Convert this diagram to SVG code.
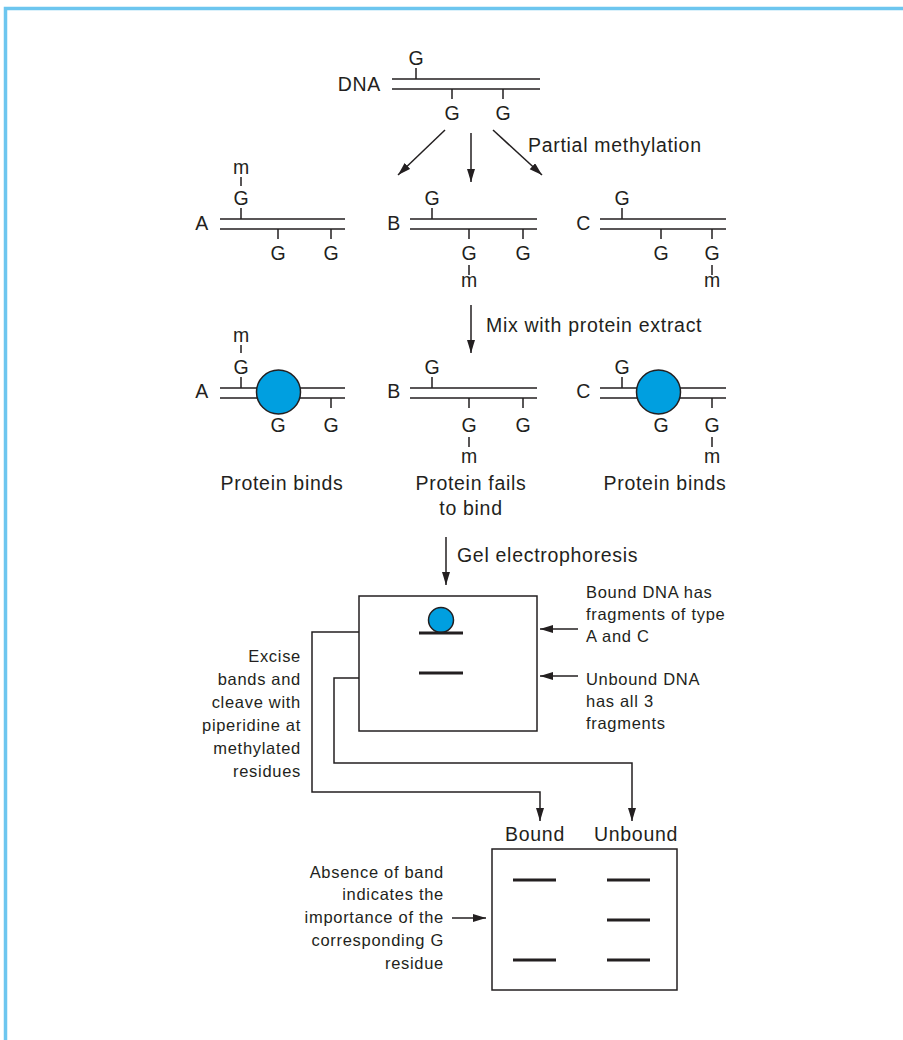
<svg xmlns="http://www.w3.org/2000/svg" width="903" height="1040" viewBox="0 0 903 1040">
  <defs>
    <style>
      text { font-family: "Liberation Sans", Arial, Helvetica, sans-serif; fill: #231F20; }
      .lg { font-size: 19.5px; letter-spacing: 0.7px; }
      .sm { font-size: 16.5px; letter-spacing: 0.7px; }
      .base { font-size: 19.5px; text-anchor: middle; }
      .end { text-anchor: end; }
      .mid { text-anchor: middle; }
      .ln { stroke: #231F20; stroke-width: 1.5; fill: none; }
      .band { stroke: #231F20; stroke-width: 3; }
      .protein { fill: #009FE0; stroke: #231F20; stroke-width: 1.5; }
      .frame { stroke: #6DC6EF; stroke-width: 3.5; fill: none; }
    </style>
    <marker id="arrow" markerUnits="userSpaceOnUse" markerWidth="14" markerHeight="9" refX="13" refY="4" orient="auto">
      <path d="M0,0 L13,4 L0,8 z" fill="#231F20"/>
    </marker>
  </defs>

  <rect width="903" height="1040" fill="#FFFFFF"/>
  <!-- page frame -->
  <path class="frame" d="M5.5,1040 V8.5 H903"/>

  <!-- starting duplex -->
  <g id="dna">
    <text class="lg end" x="381" y="91">DNA</text>
    <path class="ln" d="M392,79 H540 M392,89 H540 M416,79 V68 M452,89 V99 M503,89 V99"/>
    <text class="base" x="416" y="65">G</text>
    <text class="base" x="452" y="120">G</text>
    <text class="base" x="503" y="120">G</text>
  </g>

  <!-- methylated fragments -->
  <g id="frag-a">
    <text class="lg end" x="209" y="230">A</text>
    <path class="ln" d="M220,219 H345 M220,229 H345 M241,219 V208 M241,186 V177 M278,229 V239 M331,229 V239"/>
    <text class="base" x="241" y="174">m</text>
    <text class="base" x="241" y="205">G</text>
    <text class="base" x="278" y="260">G</text>
    <text class="base" x="331" y="260">G</text>
  </g>
  <g id="frag-b">
    <text class="lg end" x="401" y="230">B</text>
    <path class="ln" d="M410,219 H537 M410,229 H537 M432,219 V208 M469,229 V239 M523,229 V239 M469,265 V275"/>
    <text class="base" x="432" y="205">G</text>
    <text class="base" x="469" y="260">G</text>
    <text class="base" x="523" y="260">G</text>
    <text class="base" x="469" y="287">m</text>
  </g>
  <g id="frag-c">
    <text class="lg end" x="591" y="230">C</text>
    <path class="ln" d="M600,219 H726 M600,229 H726 M622,219 V208 M661,229 V239 M712,229 V239 M712,265 V275"/>
    <text class="base" x="622" y="205">G</text>
    <text class="base" x="661" y="260">G</text>
    <text class="base" x="712" y="260">G</text>
    <text class="base" x="712" y="287">m</text>
  </g>

  <!-- fragments after protein binding -->
  <g id="bound-a">
    <text class="lg end" x="209" y="398">A</text>
    <path class="ln" d="M220,388 H345 M220,398 H345 M241,388 V377 M241,353 V345 M331,398 V408"/>
    <circle class="protein" cx="278.5" cy="392" r="22"/>
    <text class="base" x="241" y="342">m</text>
    <text class="base" x="241" y="374">G</text>
    <text class="base" x="278" y="432">G</text>
    <text class="base" x="331" y="432">G</text>
    <text class="lg mid" x="282" y="490">Protein binds</text>
  </g>
  <g id="unbound-b">
    <text class="lg end" x="401" y="398">B</text>
    <path class="ln" d="M410,388 H537 M410,398 H537 M432,388 V377 M469,398 V408 M523,398 V408 M469,437 V447"/>
    <text class="base" x="432" y="374">G</text>
    <text class="base" x="469" y="432">G</text>
    <text class="base" x="523" y="432">G</text>
    <text class="base" x="469" y="463">m</text>
    <text class="lg mid" x="471" y="490">Protein fails</text>
    <text class="lg mid" x="471" y="515">to bind</text>
  </g>
  <g id="bound-c">
    <text class="lg end" x="591" y="398">C</text>
    <path class="ln" d="M600,388 H726 M600,398 H726 M622,388 V377 M712,398 V408 M712,437 V447"/>
    <circle class="protein" cx="658.5" cy="392" r="22"/>
    <text class="base" x="622" y="374">G</text>
    <text class="base" x="661" y="432">G</text>
    <text class="base" x="712" y="432">G</text>
    <text class="base" x="712" y="463">m</text>
    <text class="lg mid" x="665" y="490">Protein binds</text>
  </g>

  <!-- step labels -->
  <g id="step-labels">
    <text class="lg" x="528" y="152">Partial methylation</text>
    <text class="lg" x="486" y="332">Mix with protein extract</text>
    <text class="lg" x="457" y="562">Gel electrophoresis</text>
  </g>

  <!-- retardation gel -->
  <g id="gel-shift">
    <rect class="ln" x="359" y="596" width="178" height="135"/>
    <circle class="protein" cx="441" cy="620" r="12.5"/>
    <line class="band" x1="419" y1="633" x2="463" y2="633"/>
    <line class="band" x1="419" y1="673" x2="463" y2="673"/>
  </g>

  <g id="note-bound">
    <text class="sm" x="586" y="598">Bound DNA has</text>
    <text class="sm" x="586" y="620">fragments of type</text>
    <text class="sm" x="586" y="642">A and C</text>
  </g>
  <g id="note-unbound">
    <text class="sm" x="586" y="685">Unbound DNA</text>
    <text class="sm" x="586" y="707">has all 3</text>
    <text class="sm" x="586" y="729">fragments</text>
  </g>
  <g id="note-excise">
    <text class="sm end" x="301" y="662">Excise</text>
    <text class="sm end" x="301" y="685">bands and</text>
    <text class="sm end" x="301" y="708">cleave with</text>
    <text class="sm end" x="301" y="731">piperidine at</text>
    <text class="sm end" x="301" y="754">methylated</text>
    <text class="sm end" x="301" y="777">residues</text>
  </g>

  <!-- sequencing gel -->
  <g id="gel-seq">
    <text class="lg mid" x="535" y="841">Bound</text>
    <text class="lg mid" x="636" y="841">Unbound</text>
    <rect class="ln" x="492" y="849" width="185" height="141"/>
    <line class="band" x1="513" y1="880" x2="556" y2="880"/>
    <line class="band" x1="513" y1="960" x2="556" y2="960"/>
    <line class="band" x1="607" y1="880" x2="650" y2="880"/>
    <line class="band" x1="607" y1="920" x2="650" y2="920"/>
    <line class="band" x1="607" y1="960" x2="650" y2="960"/>
  </g>
  <g id="note-absence">
    <text class="sm end" x="444" y="878">Absence of band</text>
    <text class="sm end" x="444" y="900">indicates the</text>
    <text class="sm end" x="444" y="923">importance of the</text>
    <text class="sm end" x="444" y="946">corresponding G</text>
    <text class="sm end" x="444" y="969">residue</text>
  </g>

  <!-- connectors -->
  <g id="connectors" class="ln" marker-end="url(#arrow)">
    <line x1="445" y1="130" x2="398" y2="175"/>
    <line x1="471" y1="133" x2="471" y2="182"/>
    <line x1="493" y1="130" x2="542" y2="175"/>
    <line x1="471" y1="305" x2="471" y2="353"/>
    <line x1="446" y1="537" x2="446" y2="585"/>
    <line x1="578" y1="629" x2="540" y2="629"/>
    <line x1="578" y1="676" x2="540" y2="676"/>
    <path d="M359,632 H312 V792 H540 V821"/>
    <path d="M359,678 H334 V763 H632 V821"/>
    <line x1="452" y1="918" x2="486" y2="918"/>
  </g>
</svg>
